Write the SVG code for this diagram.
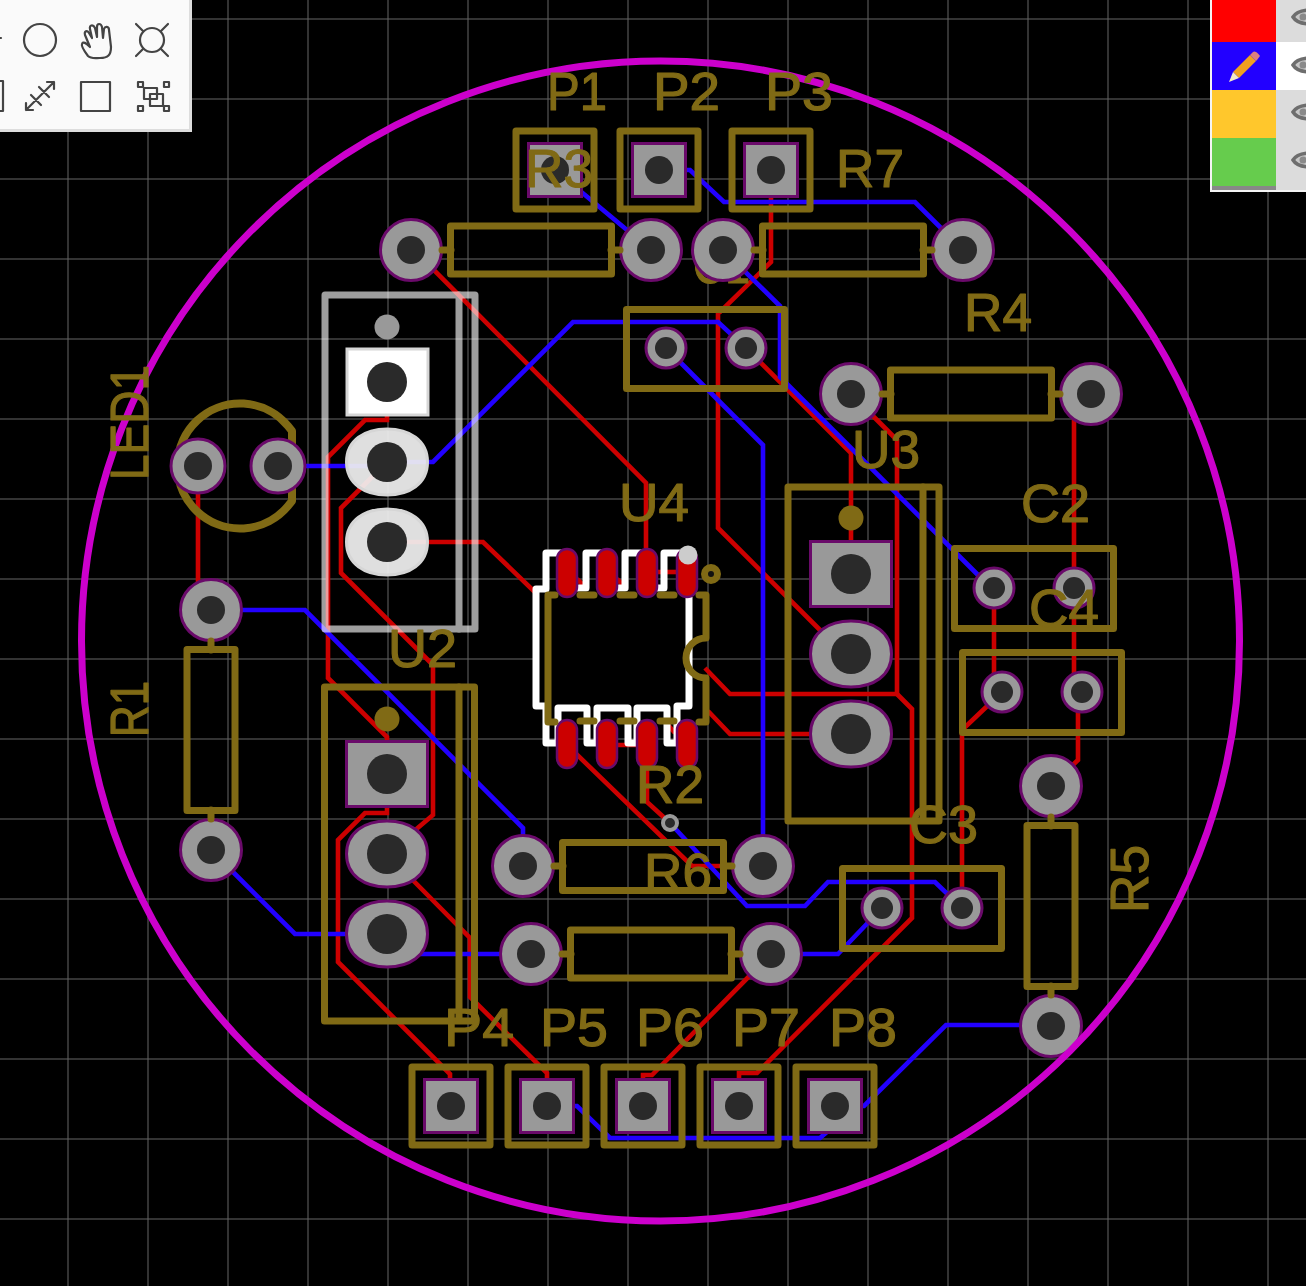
<svg xmlns="http://www.w3.org/2000/svg" xmlns:xlink="http://www.w3.org/1999/xlink" width="1306" height="1286" viewBox="0 0 1306 1286">
<style>
.grid{stroke:#666;stroke-width:1;fill:none}
.r{stroke:#cc0000;stroke-width:4.6;fill:none;stroke-linejoin:miter}
.b{stroke:#2200ff;stroke-width:4.6;fill:none;stroke-linejoin:miter}
.s{stroke:#806a15;stroke-width:7;fill:none;stroke-linejoin:round;stroke-linecap:round}
.t{fill:#806a15;stroke:#806a15;stroke-width:1.2;stroke-linejoin:round;font-family:"Liberation Sans",Arial,sans-serif;font-size:54px}
.pad{fill:#999;stroke:#6a0a6a;stroke-width:3}
.hole{fill:#2a2a2a}
.smd{fill:#cc0000;stroke:#6a0a6a;stroke-width:2.5}
.dot{fill:#806a15}
.ic{stroke:#444;stroke-width:2.2;fill:none;stroke-linejoin:round;stroke-linecap:round}
.eye{stroke:#6e6e6e;stroke-width:3.5;fill:#c8c8c8}
</style>
<defs>
<g id="th"><circle class="pad" r="30.5"/><circle class="hole" r="14"/></g>
<g id="cp"><circle class="pad" r="20"/><circle class="hole" r="11"/></g>
<g id="led"><circle class="pad" r="27"/><circle class="hole" r="14"/></g>
<g id="sq"><rect class="pad" x="-26.5" y="-26.5" width="53" height="53"/><circle class="hole" r="14"/></g>
<g id="hs"><rect class="pad" x="-40.5" y="-32.5" width="81" height="65"/><circle class="hole" r="20"/></g>
<g id="ov"><path class="pad" d="M-40.5 0C-40.5-22-22-33 0-33S40.5-22 40.5 0 22 33 0 33-40.5 22-40.5 0Z"/><circle class="hole" r="20"/></g>
<rect id="smd" class="smd" x="-10" y="-24" width="20" height="48" rx="10"/>
<g id="eyeI"><path class="eye" d="M-6 0C-3-5 3-7 12-7V7C3 7-3 5-6 0Z"/><circle cx="4" r="3.5" fill="#8a8a8a"/></g>
</defs>
<rect width="1306" height="1286" fill="#000"/>
<g id="grid" class="grid">
<path d="M68 0V1286M148 0V1286M228 0V1286M308 0V1286M388 0V1286M468 0V1286M548 0V1286M628 0V1286M708 0V1286M788 0V1286M868 0V1286M948 0V1286M1028 0V1286M1108 0V1286M1188 0V1286M1268 0V1286"/>
<path d="M0 19H1306M0 99H1306M0 179H1306M0 259H1306M0 339H1306M0 419H1306M0 499H1306M0 579H1306M0 659H1306M0 739H1306M0 819H1306M0 899H1306M0 979H1306M0 1059H1306M0 1139H1306M0 1219H1306"/>
</g>
<g id="connectors">
<g id="red-traces" class="r">
<path d="M411 247L646 483V548"/>
<path d="M387 542H483L540 597"/>
<path d="M771 170V262L720 312H718V528L830 640"/>
<path d="M746 348L851 453V574"/>
<path d="M851 394L897 440V694H730L705 668"/>
<path d="M897 694L912 709V918L757 1073H739V1090"/>
<path d="M708 711L730 734H851"/>
<path d="M771 954L652 1075H643V1090"/>
<path d="M962 908V730L1002 692"/>
<path d="M994 588V692"/>
<path d="M1074 394V692"/>
<path d="M1078 692V760L1051 786"/>
<path d="M1091 394H1074"/>
<path d="M387 382V420H365L328 457V678L387 737V774"/>
<path d="M387 462L341 508V573L433 665V815L387 854"/>
<path d="M387 774V813H365L338 840V962L450 1074V1090"/>
<path d="M387 854L470 938V997L547 1073V1090"/>
<path d="M567 745L692 866H763"/>
<path d="M647 760V802L670 823"/>
<path d="M198 466V610H211"/>
<path d="M655 572H680"/>
<path d="M577 579L584 586M617 579L624 586M618 745H636M668 725L675 733"/>
</g>
<g id="blue-traces" class="b">
<path d="M555 170L651 250"/>
<path d="M659 170H690L724 202H915L963 250"/>
<path d="M723 250L780 306V377L978 575"/>
<path d="M278 466H387"/>
<path d="M387 462H433L573 322H718L746 348"/>
<path d="M666 348L763 445V866"/>
<path d="M211 610H305L523 828V866"/>
<path d="M211 850L295 934H387"/>
<path d="M400 942L420 954H531"/>
<path d="M670 823L747 906H805L828 882H935L962 908"/>
<path d="M771 954H838L882 908"/>
<path d="M547 1106H577L610 1138H820L835 1125"/>
<path d="M835 1106H864L946 1025H1051"/>
</g>
</g>
<g id="C1-label"><text class="t" x="693" y="283" textLength="57" lengthAdjust="spacingAndGlyphs">C1</text></g>
<g id="R3"><use href="#th" x="411" y="250"/><use href="#th" x="651" y="250"/><rect class="s" x="450.500" y="226" width="161" height="48"/><path class="s" d="M442 250H451M611 250H620"/></g>
<g id="R7"><use href="#th" x="723" y="250"/><use href="#th" x="963" y="250"/><rect class="s" x="762.500" y="226" width="161" height="48"/><path class="s" d="M754 250H763M923 250H932"/></g>
<g id="R4"><use href="#th" x="851" y="394"/><use href="#th" x="1091" y="394"/><rect class="s" x="890.500" y="370" width="161" height="48"/><path class="s" d="M882 394H891M1051 394H1060"/></g>
<g id="R1"><use href="#th" x="211" y="610"/><use href="#th" x="211" y="850"/><rect class="s" x="187" y="649.500" width="48" height="161"/><path class="s" d="M211 641V650M211 810V819"/></g>
<g id="R5"><use href="#th" x="1051" y="786"/><use href="#th" x="1051" y="1026"/><rect class="s" x="1027" y="825.500" width="48" height="161"/><path class="s" d="M1051 817V826M1051 986V995"/></g>
<g id="R6"><use href="#th" x="523" y="866"/><use href="#th" x="763" y="866"/><rect class="s" x="562.500" y="842.500" width="161" height="48"/><path class="s" d="M554 866H563M723 866H732"/></g>
<g id="R2"><use href="#th" x="531" y="954"/><use href="#th" x="771" y="954"/><rect class="s" x="570.500" y="930" width="161" height="48"/><path class="s" d="M562 954H571M731 954H740"/></g>
<g id="C1"><use href="#cp" x="666" y="348"/><use href="#cp" x="746" y="348"/><rect class="s" x="626.500" y="309.500" width="158" height="79"/></g>
<g id="C2"><use href="#cp" x="994" y="588"/><use href="#cp" x="1074" y="588"/><rect class="s" x="954.500" y="548.500" width="159" height="80"/></g>
<g id="C4"><use href="#cp" x="1002" y="692"/><use href="#cp" x="1082" y="692"/><rect class="s" x="962.500" y="652.500" width="159" height="80"/></g>
<g id="C3"><use href="#cp" x="882" y="908"/><use href="#cp" x="962" y="908"/><rect class="s" x="842.500" y="868.500" width="159" height="80"/></g>
<g id="LED1"><path class="s" d="M292 431L288 426A62.500 62.500 0 1 0 288 506L292 501Z" style="stroke-width:8;stroke-linecap:butt"/><use href="#led" x="198" y="466"/><use href="#led" x="278" y="466"/></g>
<g id="P1"><use href="#sq" x="555" y="170"/><rect class="s" x="516" y="131" width="78" height="78"/></g>
<g id="P2"><use href="#sq" x="659" y="170"/><rect class="s" x="620" y="131" width="78" height="78"/></g>
<g id="P3"><use href="#sq" x="771" y="170"/><rect class="s" x="732" y="131" width="78" height="78"/></g>
<g id="P4"><use href="#sq" x="451" y="1106"/><rect class="s" x="412" y="1067" width="78" height="78"/></g>
<g id="P5"><use href="#sq" x="547" y="1106"/><rect class="s" x="508" y="1067" width="78" height="78"/></g>
<g id="P6"><use href="#sq" x="643" y="1106"/><rect class="s" x="604" y="1067" width="78" height="78"/></g>
<g id="P7"><use href="#sq" x="739" y="1106"/><rect class="s" x="700" y="1067" width="78" height="78"/></g>
<g id="P8"><use href="#sq" x="835" y="1106"/><rect class="s" x="796" y="1067" width="78" height="78"/></g>
<g id="U2"><circle class="dot" cx="387" cy="719" r="12.5"/><use href="#hs" x="387" y="774"/><use href="#ov" x="387" y="854"/><use href="#ov" x="387" y="934"/><rect class="s" x="324.500" y="687" width="150" height="334"/><path class="s" d="M459 687V1020"/></g>
<g id="U3"><circle class="dot" cx="851" cy="518" r="12.5"/><use href="#hs" x="851" y="574"/><use href="#ov" x="851" y="654"/><use href="#ov" x="851" y="734"/><rect class="s" x="788" y="487" width="151" height="334"/><path class="s" d="M923 487V820"/></g>
<g id="via"><circle cx="670" cy="823" r="7" fill="#2a2a2a" stroke="#999" stroke-width="4"/></g>
<g id="U4">
<rect x="539" y="590" width="148" height="118" fill="#000"/>
<path fill="none" stroke="#fff" stroke-width="7" stroke-linejoin="round" d="M689 597V706H677V743H667V708H637V743H628V708H597V743H587V708H558V743H546V706H536V589H546V553H567M567 588H586V553H607M607 588H625V553H647M647 588H664V553H687"/>
<use href="#smd" x="567" y="573"/><use href="#smd" x="607" y="573"/><use href="#smd" x="647" y="573"/><use href="#smd" x="687" y="573"/>
<use href="#smd" x="567" y="744"/><use href="#smd" x="607" y="744"/><use href="#smd" x="647" y="744"/><use href="#smd" x="687" y="744"/>
<circle cx="688" cy="555" r="9.5" fill="#ccc"/>
<path class="s" d="M555 595H548V722H555M580 595H594M620 595H634M660 595H674M699 595H706V638A20 20 0 0 0 706 678V722H699M580 721H594M620 721H634M660 721H674"/>
<circle cx="711" cy="574" r="6.500" fill="#111" stroke="#806a15" stroke-width="7"/>
</g>
<g id="U1">
<g opacity=".62"><rect x="325" y="295" width="150" height="334" fill="none" stroke="#fff" stroke-width="7" stroke-linejoin="round"/><path d="M459 295V629" stroke="#fff" stroke-width="7" stroke-linecap="round"/></g>
<circle cx="387" cy="327" r="12.500" fill="#999"/>
<rect x="347" y="349" width="81" height="66" fill="#fff" stroke="#d6d6d6" stroke-width="3"/>
<path transform="translate(387 462)" d="M-40.500 0C-40.500-22-22-33 0-33S40.500-22 40.500 0 22 33 0 33-40.500 22-40.500 0Z" fill="#f0f0f0" fill-opacity=".93" stroke="#d6d6d6" stroke-width="3"/>
<path transform="translate(387 542)" d="M-40.500 0C-40.500-22-22-33 0-33S40.500-22 40.500 0 22 33 0 33-40.500 22-40.500 0Z" fill="#f0f0f0" fill-opacity=".93" stroke="#d6d6d6" stroke-width="3"/>
<circle class="hole" cx="387" cy="382" r="20"/><circle class="hole" cx="387" cy="462" r="20"/><circle class="hole" cx="387" cy="542" r="20"/>
</g>
<g id="board-outline"><ellipse cx="660.500" cy="641" rx="579" ry="580" fill="none" stroke="#cc00cc" stroke-width="7"/></g>
<g id="labels">
<text class="t" x="547" y="110" textLength="60" lengthAdjust="spacingAndGlyphs">P1</text>
<text class="t" x="653" y="110" textLength="67" lengthAdjust="spacingAndGlyphs">P2</text>
<text class="t" x="765" y="110" textLength="68" lengthAdjust="spacingAndGlyphs">P3</text>
<text class="t" x="525" y="187" textLength="68" lengthAdjust="spacingAndGlyphs">R3</text>
<text class="t" x="836" y="187" textLength="68" lengthAdjust="spacingAndGlyphs">R7</text>
<text class="t" x="964" y="331" textLength="68" lengthAdjust="spacingAndGlyphs">R4</text>
<text class="t" x="852" y="468" textLength="68" lengthAdjust="spacingAndGlyphs">U3</text>
<text class="t" x="619" y="521" textLength="70" lengthAdjust="spacingAndGlyphs">U4</text>
<text class="t" x="1021" y="522" textLength="69" lengthAdjust="spacingAndGlyphs">C2</text>
<text class="t" x="1029" y="627" textLength="70" lengthAdjust="spacingAndGlyphs">C4</text>
<text class="t" x="388" y="667" textLength="69" lengthAdjust="spacingAndGlyphs">U2</text>
<text class="t" x="636" y="803" textLength="68" lengthAdjust="spacingAndGlyphs">R2</text>
<text class="t" x="644" y="891" textLength="68" lengthAdjust="spacingAndGlyphs">R6</text>
<text class="t" x="909" y="843" textLength="69" lengthAdjust="spacingAndGlyphs">C3</text>
<text class="t" x="444" y="1046" textLength="70" lengthAdjust="spacingAndGlyphs">P4</text>
<text class="t" x="540" y="1046" textLength="68" lengthAdjust="spacingAndGlyphs">P5</text>
<text class="t" x="636" y="1046" textLength="68" lengthAdjust="spacingAndGlyphs">P6</text>
<text class="t" x="732" y="1046" textLength="68" lengthAdjust="spacingAndGlyphs">P7</text>
<text class="t" x="829" y="1046" textLength="68" lengthAdjust="spacingAndGlyphs">P8</text>
<text class="t" transform="translate(148 737) rotate(-90)" textLength="56" lengthAdjust="spacingAndGlyphs">R1</text>
<text class="t" transform="translate(148 480) rotate(-90)" textLength="115" lengthAdjust="spacingAndGlyphs">LED1</text>
<text class="t" transform="translate(1148 913) rotate(-90)" textLength="68" lengthAdjust="spacingAndGlyphs">R5</text>
</g>
<g id="toolbar">
<rect x="-4" y="-4" width="194.500" height="134.500" fill="#fafafa" stroke="#ddd" stroke-width="3"/>
<circle class="ic" cx="40" cy="40" r="16"/>
<path class="ic" d="M-1 38H1M0 81H3V111H0"/>
<path class="ic" d="M88 56C85 52 81 46 82 44 83 41 86 43 90 47L85 35C84 31 87 30 89 33L92 38 90 29C89 25 93 24 95 28L97 37 97 27C97 23 101 23 102 27L103 38 104 29C105 26 109 26 109 30L111 47C111 55 108 58 100 58 95 58 91 59 88 56Z"/>
<circle class="ic" cx="152" cy="40" r="12"/>
<path class="ic" d="M136 24L143 31M168 24L161 31M136 56L143 49M168 56L161 49"/>
<path class="ic" d="M26 110L54 82M26 110V103M26 110H33M54 82H47M54 82V89M31 95L41 105M39 87L49 97"/>
<rect class="ic" x="81" y="82" width="29" height="29"/>
<rect class="ic" x="138" y="82" width="5" height="5"/><rect class="ic" x="164" y="82" width="5" height="5"/><rect class="ic" x="138" y="106" width="5" height="5"/><rect class="ic" x="164" y="106" width="5" height="5"/>
<rect class="ic" x="144" y="88" width="13" height="11"/><rect class="ic" x="150" y="94" width="13" height="12"/>
</g>
<g id="layers">
<rect x="1210" y="0" width="96" height="192" fill="#f4f4f4"/>
<rect x="1276" y="0" width="30" height="190" fill="#dcdcdc"/>
<rect x="1276" y="42" width="30" height="48" fill="#fff"/>
<rect x="1212" y="0" width="64" height="42" fill="#ff0000"/>
<rect x="1212" y="42" width="64" height="48" fill="#2200ff"/>
<rect x="1212" y="90" width="64" height="48" fill="#ffc72c"/>
<rect x="1212" y="138" width="64" height="48" fill="#66cc4d"/>
<rect x="1212" y="186" width="64" height="4" fill="#888"/>
<path d="M1233 72L1250 55 1256 61 1239 78Z" fill="#f0a020"/>
<path d="M1250 55L1253 52C1255 50 1259 54 1260 56L1257 60 1256 61Z" fill="#dc7f80"/>
<path d="M1233 72L1239 78 1229 82Z" fill="#f4e8c8"/>
<use href="#eyeI" x="1299" y="17"/><use href="#eyeI" x="1299" y="65"/><use href="#eyeI" x="1299" y="112"/><use href="#eyeI" x="1299" y="160"/>
</g>
</svg>
